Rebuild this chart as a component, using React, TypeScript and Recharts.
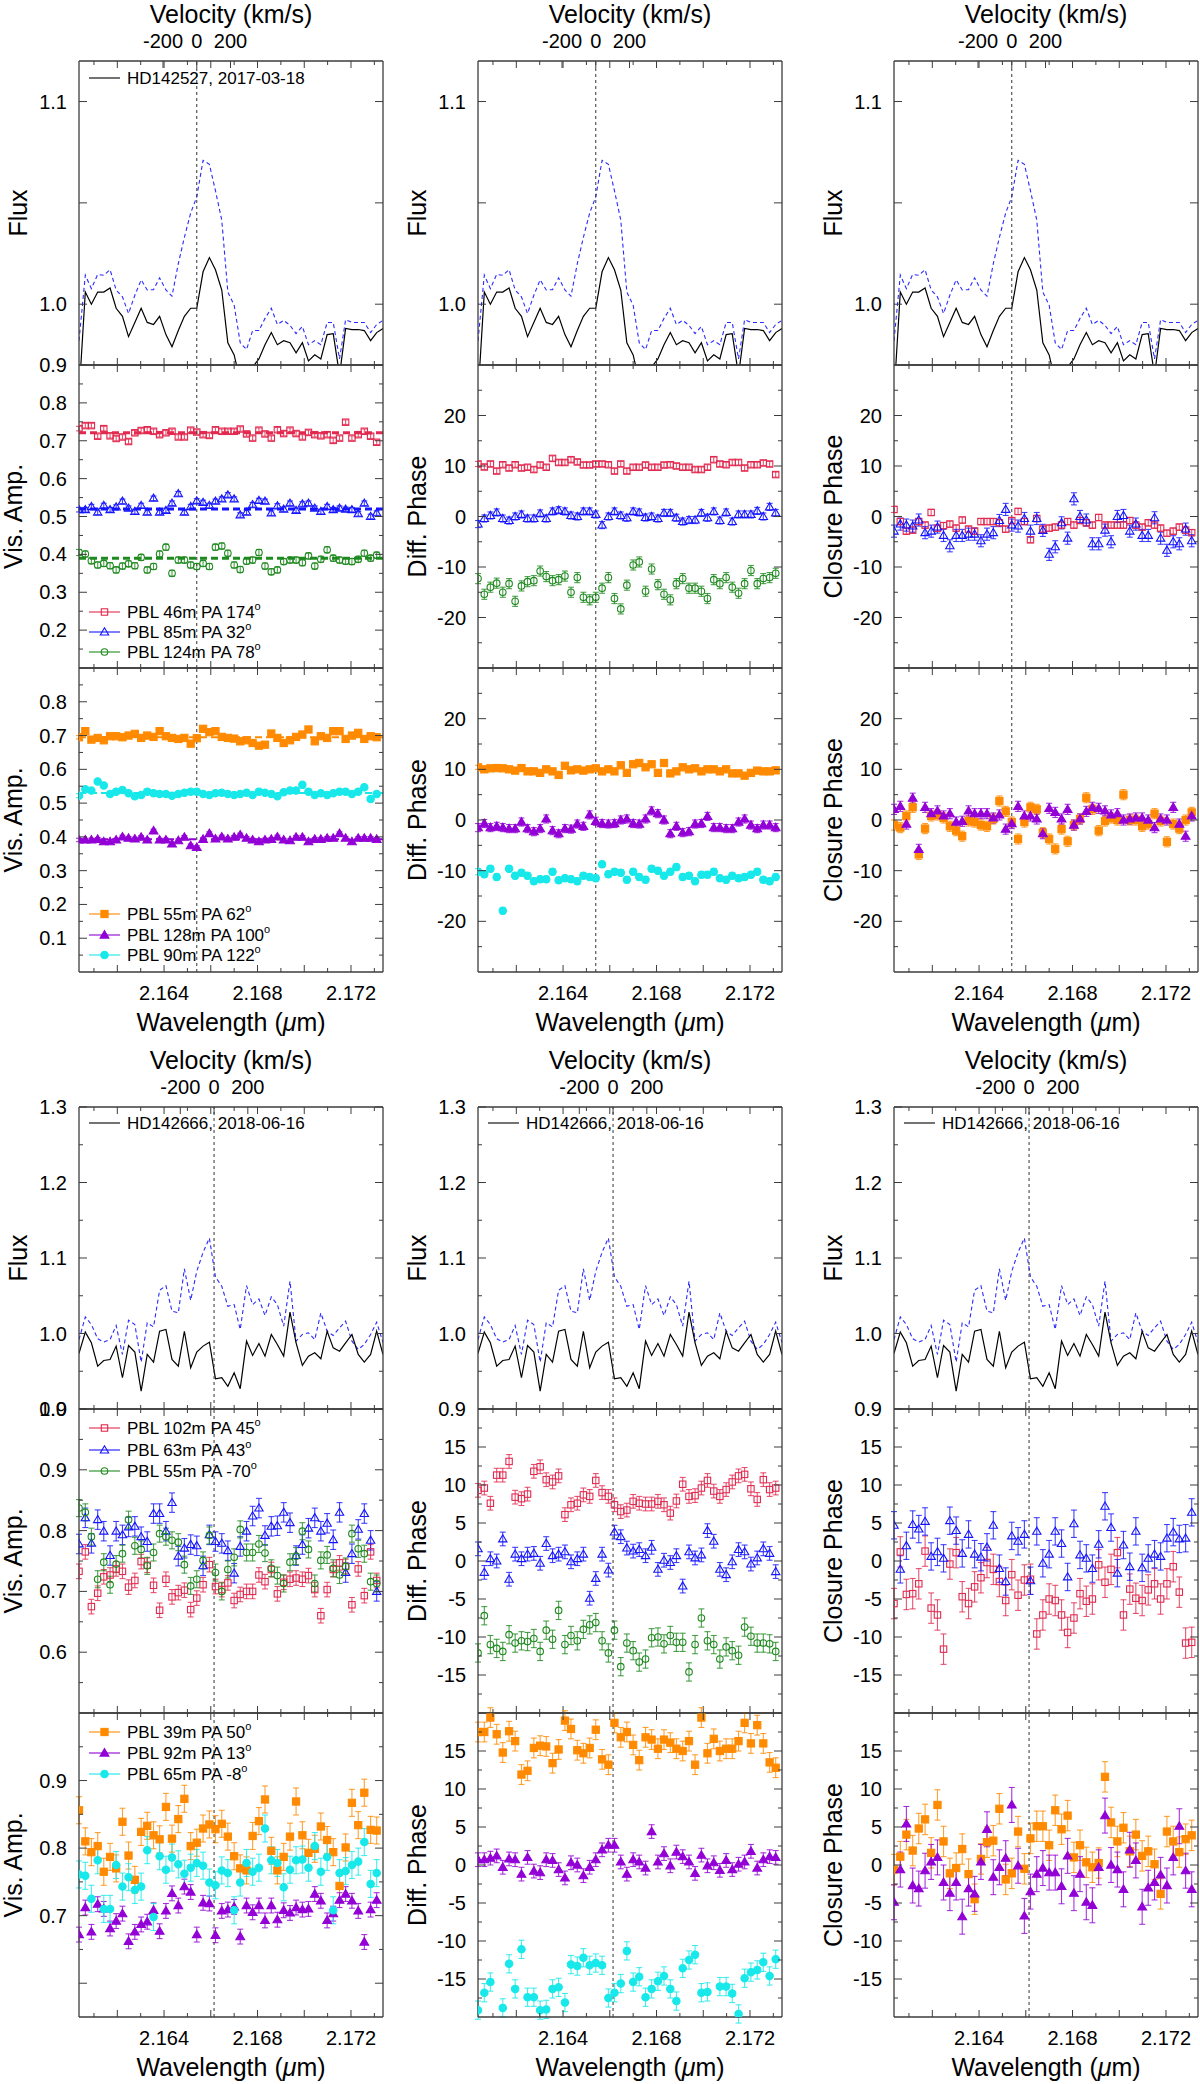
import React from 'react';
import { ComposedChart, Line, Scatter, XAxis, YAxis, ReferenceLine, ErrorBar } from 'recharts';

const FONT = '"Liberation Sans", Arial, Helvetica, sans-serif';
const FRAME = '#3c3c3c';

// ---------- wavelength grid (micron) ----------
const WAVE = [2.16036, 2.16063, 2.16089, 2.16116, 2.16142, 2.16169, 2.16195, 2.16222, 2.16248, 2.16275,
  2.16302, 2.16328, 2.16355, 2.16381, 2.16408, 2.16434, 2.16461, 2.16487, 2.16514, 2.16540,
  2.16567, 2.16594, 2.16620, 2.16647, 2.16673, 2.16700, 2.16726, 2.16753, 2.16779, 2.16806,
  2.16832, 2.16859, 2.16885, 2.16912, 2.16939, 2.16965, 2.16992, 2.17018, 2.17045, 2.17071,
  2.17098, 2.17124, 2.17151, 2.17177, 2.17204, 2.17231, 2.17257, 2.17284, 2.17310, 2.17337];
const X_DOMAIN = [2.16036, 2.17337];
const X_MAJOR = [2.162, 2.164, 2.166, 2.168, 2.170, 2.172];
const X_MINOR = [2.161, 2.163, 2.165, 2.167, 2.169, 2.171, 2.173];
const X_LABELED = [2.164, 2.168, 2.172];
const VEL_TICKS = [-200, 0, 200];
const C_KMS = 299792.458;
const LAM0_TOP = 2.1654;
const LAM0_BOT = 2.16614;

// ---------- HD142527 (top) ----------
const fluxTopBlack = [0.955, 1.006, 1.000, 1.006, 1.006, 1.008, 0.998, 0.994, 0.984, 0.991,
  0.998, 0.991, 0.990, 0.994, 0.985, 0.979, 0.987, 0.994, 0.998, 0.998,
  1.016, 1.023, 1.017, 1.007, 0.981, 0.975, 0.962, 0.960, 0.969, 0.973,
  0.980, 0.986, 0.980, 0.982, 0.981, 0.976, 0.981, 0.972, 0.975, 0.973,
  0.985, 0.9855, 0.965, 0.988, 0.9875, 0.9875, 0.987, 0.982, 0.986, 0.988];
const fluxTopBlue = [0.982, 1.0143, 1.0077, 1.0147, 1.0143, 1.017, 1.007, 1.0036, 0.9954, 1.0044,
  1.012, 1.007, 1.0072, 1.013, 1.007, 1.004, 1.020, 1.033, 1.045, 1.053,
  1.071, 1.069, 1.056, 1.0415, 1.006, 0.9995, 0.981, 0.9776, 0.987, 0.987,
  0.993, 0.998, 0.990, 0.992, 0.9896, 0.9855, 0.989, 0.980, 0.982, 0.980,
  0.991, 0.991, 0.973, 0.9924, 0.991, 0.991, 0.991, 0.986, 0.990, 0.992];

const topVisRed = [0.732, 0.740, 0.740, 0.712, 0.732, 0.713, 0.706, 0.710, 0.698, 0.721,
  0.727, 0.729, 0.725, 0.716, 0.721, 0.725, 0.710, 0.710, 0.728, 0.723,
  0.716, 0.714, 0.729, 0.725, 0.725, 0.725, 0.731, 0.718, 0.707, 0.728,
  0.718, 0.707, 0.729, 0.719, 0.728, 0.719, 0.710, 0.722, 0.716, 0.713,
  0.716, 0.701, 0.707, 0.749, 0.707, 0.716, 0.725, 0.712, 0.696];
const topVisBlue = [0.518, 0.518, 0.526, 0.511, 0.529, 0.518, 0.525, 0.540, 0.522, 0.513,
  0.529, 0.511, 0.548, 0.511, 0.516, 0.535, 0.560, 0.511, 0.526, 0.541,
  0.537, 0.529, 0.540, 0.546, 0.557, 0.546, 0.504, 0.511, 0.531, 0.542,
  0.540, 0.509, 0.528, 0.519, 0.535, 0.516, 0.533, 0.535, 0.522, 0.513,
  0.526, 0.518, 0.522, 0.519, 0.518, 0.507, 0.535, 0.500, 0.509];
const topVisGreen = [0.405, 0.401, 0.383, 0.372, 0.376, 0.370, 0.359, 0.369, 0.375, 0.370,
  0.392, 0.359, 0.368, 0.401, 0.419, 0.350, 0.385, 0.385, 0.372, 0.368,
  0.376, 0.368, 0.419, 0.422, 0.403, 0.372, 0.360, 0.382, 0.385, 0.405,
  0.369, 0.354, 0.359, 0.381, 0.385, 0.385, 0.378, 0.396, 0.369, 0.387,
  0.412, 0.390, 0.385, 0.382, 0.381, 0.387, 0.403, 0.390, 0.398];
const topVisMeans = [0.721, 0.520, 0.390];

const topVis2Orange = [0.695, 0.713, 0.688, 0.693, 0.686, 0.698, 0.698, 0.695, 0.700, 0.705,
  0.693, 0.700, 0.696, 0.713, 0.698, 0.693, 0.690, 0.693, 0.676, 0.692,
  0.720, 0.710, 0.713, 0.696, 0.693, 0.691, 0.683, 0.686, 0.678, 0.670,
  0.673, 0.706, 0.693, 0.678, 0.686, 0.696, 0.703, 0.718, 0.683, 0.698,
  0.693, 0.713, 0.713, 0.690, 0.700, 0.708, 0.690, 0.698, 0.695];
const topVis2Purple = [0.391, 0.391, 0.391, 0.393, 0.386, 0.386, 0.391, 0.400, 0.396, 0.394,
  0.399, 0.391, 0.418, 0.391, 0.391, 0.379, 0.389, 0.399, 0.374, 0.369,
  0.393, 0.410, 0.394, 0.400, 0.394, 0.399, 0.406, 0.396, 0.391, 0.386,
  0.391, 0.393, 0.400, 0.391, 0.389, 0.399, 0.399, 0.386, 0.393, 0.393,
  0.396, 0.396, 0.410, 0.396, 0.386, 0.396, 0.396, 0.396, 0.393];
const topVis2Cyan = [0.522, 0.541, 0.537, 0.564, 0.552, 0.527, 0.534, 0.539, 0.529, 0.520,
  0.524, 0.534, 0.529, 0.527, 0.527, 0.522, 0.527, 0.531, 0.534, 0.534,
  0.527, 0.524, 0.529, 0.531, 0.527, 0.524, 0.527, 0.531, 0.524, 0.534,
  0.531, 0.527, 0.520, 0.532, 0.537, 0.537, 0.554, 0.534, 0.524, 0.529,
  0.524, 0.529, 0.534, 0.534, 0.527, 0.534, 0.547, 0.512, 0.527];
const topVis2Means = [0.695, 0.393, 0.530];

const topDpRed = [10.4, 9.8, 10.4, 9.0, 10.25, 9.6, 10.25, 9.6, 9.75, 9.3,
  10.2, 9.75, 11.5, 10.7, 10.7, 11.25, 10.8, 10.2, 10.2, 10.4,
  10.4, 10.25, 9.0, 10.4, 9.0, 9.75, 9.75, 10.2, 9.75, 9.75,
  10.2, 10.25, 10.0, 9.75, 9.75, 9.3, 9.3, 9.75, 11.25, 10.4,
  10.25, 10.7, 10.7, 9.6, 10.25, 10.25, 10.6, 10.4, 8.3];
const topDpBlue = [-1.5, -0.4, 0.2, 0.8, -0.4, -0.8, 0, 0.4, -0.4, -0.4,
  0.6, -0.4, 1.0, 1.25, 1.0, 0.2, 0, 1.0, 1.0, 0.4,
  -1.7, 0, 1.0, 0.2, -0.25, 1.0, 0.8, -0.2, 0, -0.4,
  0.7, 0.7, -0.25, -1.0, -0.7, -0.7, 0.7, -0.25, 1.0, -0.8,
  0.8, -1.0, 0.4, 0.4, 0.4, 1.1, 0, 1.9, 0.7];
const topDpGreen = [-12.3, -15.4, -14.0, -13.2, -15.0, -13.3, -16.8, -13.75, -12.9, -12.7,
  -10.8, -11.9, -12.7, -12.5, -11.8, -15.0, -12.1, -16.0, -16.5, -16.0,
  -14.2, -12.1, -16.25, -18.3, -13.6, -9.6, -9.0, -14.8, -10.4, -13.5,
  -15.4, -16.5, -13.3, -12.3, -14.2, -14.2, -14.8, -16.25, -12.5, -13.3,
  -12.1, -14.0, -15.2, -13.3, -10.7, -13.3, -12.3, -12.1, -11.25];

const topDp2Orange = [10.4, 10, 10.2, 10.25, 10.2, 10, 9.75, 10.25, 9.6, 9.6,
  9.3, 10, 9.6, 8.9, 10.7, 9.8, 10, 9.75, 10, 10.2,
  9.6, 10, 9.6, 10.8, 9.3, 11.0, 11.25, 10.4, 11, 9.3,
  11.25, 9.2, 9.6, 10.4, 10, 10.2, 9.6, 10, 10, 9.6,
  10, 9.2, 9.2, 8.75, 9.3, 9.75, 9.6, 9.6, 9.8];
const topDp2Purple = [-1.5, -0.7, -1.5, -1.25, -1.5, -1.7, -1.7, -0.4, -1.7, -2.3,
  -1.7, 0.2, -2.1, -2.7, -1.7, -1.8, -0.8, -1.25, 1.0, -0.25,
  -0.7, -0.8, -0.7, 0, 0.2, -0.7, -0.8, 0.2, 1.8, 1.25,
  0, -2.7, -1.25, -2.5, -2.3, -0.8, -0.7, 0.7, -1.5, -1.5,
  -1.7, -1.7, -0.4, 0.2, -1.0, -1.7, -1.0, -1.0, -1.5];
const topDp2Cyan = [-10.2, -10.7, -9.6, -11.25, -17.9, -9.6, -11, -10.4, -11, -12.1,
  -11.7, -11.7, -10.2, -11.9, -11.5, -11.7, -12.1, -11, -11.25, -11.5,
  -8.75, -10.7, -10.2, -10.4, -11.8, -10.2, -11.25, -11.8, -9.6, -10,
  -11, -10.2, -9.3, -11.25, -11, -12.1, -10.8, -10.8, -10.2, -11.5,
  -11.8, -11, -11.5, -11.25, -10.8, -10.2, -11.8, -12.1, -11.25];

const topCpRed = [1.4, -1.0, -2.9, -2.7, -1.0, -1.7, 0.8, -2.3, -1.8, -1.5,
  -2.3, -0.7, -2.5, -2.9, -1.0, -1.0, -1.0, -1.25, -2.5, -0.8,
  1.0, -1.0, -4.6, -0.4, -2.5, -2.3, -2.1, -1.7, -1.0, -1.7,
  -0.8, -1.25, -1.7, -0.2, -1.7, -1.7, -1.7, -1.7, -0.8, -1.7,
  -2.1, -1.25, -1.7, -2.3, -3.3, -2.9, -2.1, -2.7, -3.2];
const topCpBlue = [-2.9, -1.5, -1.7, -1.9, -0.7, -3.2, -2.9, -2.1, -3.75, -5.8,
  -3.75, -3.75, -3.5, -3.5, -4.8, -3.5, -3.2, -0.8, 1.4, -1.7,
  -1.9, -0.4, -2.9, -0.4, -2.75, -7.5, -6.0, -1.25, -4.3, 3.5,
  0, -0.7, -5.4, -5.4, -2.7, -5.0, 0, 0.2, -2.9, -1.5,
  -3.75, -3.75, -0.25, -4.3, -6.7, -5.0, -5.4, -2.5, -4.8];
const topCp2Orange = [-1.0, -1.5, 0.8, 2.5, -6.8, -1.7, 0.8, 1.0, 0.4, -1.25,
  -2.1, -3.2, -0.2, -0.4, -1.0, -1.25, 0.2, 3.75, 1.7, -0.4,
  -3.75, -0.4, 2.5, 2.1, -2.5, -3.75, -5.7, -1.8, -4.2, -1.0,
  0.2, 4.4, 2.1, -2.1, -0.2, 0.4, 0, 5.0, 0, 0,
  -1.25, -0.8, 1.25, -0.2, -4.3, -0.8, -1.7, 0, 1.5];
const topCp2Purple = [2.1, 2.7, -0.8, 4.3, -5.8, 2.5, 1.25, 1.8, 0.8, 1.25,
  -0.4, -0.25, 1.8, 1.25, 1.25, 1.25, 0.4, 1.0, -1.8, -0.7,
  2.7, 0.8, 0.8, 0.2, -2.7, 2.3, 1.5, 0.2, 2.1, -1.0,
  0.2, 1.7, 2.5, 2.3, 1.8, 1.0, 1.25, 0, 0.2, 0.4,
  0.4, 0, -1.5, 0.2, 0, 2.5, -0.8, -3.2, 0.8];

// ---------- HD142666 (bottom) ----------
const fluxBotBlack = [0.9736, 1.0018, 0.9877, 0.9568, 0.9643, 0.9656, 0.9833, 0.9414, 0.9841, 0.9753,
  0.9238, 0.9722, 0.9621, 1.003, 1.0053, 0.9656, 0.9568, 1.003, 0.9546, 0.9753,
  0.9833, 0.9885, 0.940, 0.9414, 0.930, 0.948, 0.9269, 0.9899, 0.9709, 0.9868,
  0.970, 0.9987, 0.9855, 0.970, 1.0282, 0.9877, 0.9577, 0.970, 0.9744, 0.9665,
  1.003, 0.981, 0.9766, 0.9877, 0.9987, 0.9722, 0.9621, 0.9722, 1.0031, 0.9722];
const fluxBotBlue = [0.992, 1.022, 1.0119, 0.993, 0.9885, 0.992, 1.0106, 0.9722, 1.0176, 1.0119,
  0.9621, 1.0141, 1.0088, 1.0573, 1.0634, 1.0295, 1.0273, 1.0855, 1.044, 1.0824,
  1.1075, 1.1264, 1.0749, 1.0626, 1.0361, 1.0383, 1.0053, 1.0634, 1.0383, 1.0458,
  1.0238, 1.0485, 1.0383, 1.0097, 1.0692, 0.9899, 0.9987, 1.0009, 0.992, 1.0273,
  1.003, 0.9974, 1.0075, 1.0163, 0.9899, 0.9789, 0.9855, 0.9987, 1.015, 0.988];

const botVisRed = [0.733, 0.765, 0.675, 0.697, 0.724, 0.727, 0.737, 0.733, 0.707, 0.718,
  0.749, 0.743, 0.710, 0.669, 0.720, 0.691, 0.698, 0.702, 0.670, 0.689,
  0.711, 0.744, 0.708, 0.703, 0.714, 0.685, 0.695, 0.700, 0.700, 0.727,
  0.716, 0.736, 0.696, 0.715, 0.720, 0.722, 0.720, 0.726, 0.703, 0.660,
  0.703, 0.736, 0.747, 0.741, 0.678, 0.737, 0.693, 0.765, 0.718];
const botVisBlue = [0.778, 0.821, 0.779, 0.818, 0.799, 0.759, 0.799, 0.793, 0.806, 0.807,
  0.790, 0.782, 0.828, 0.828, 0.799, 0.846, 0.758, 0.771, 0.777, 0.775,
  0.742, 0.793, 0.782, 0.779, 0.767, 0.730, 0.774, 0.799, 0.824, 0.837,
  0.792, 0.807, 0.808, 0.830, 0.813, 0.759, 0.777, 0.804, 0.821, 0.799,
  0.812, 0.785, 0.830, 0.731, 0.762, 0.802, 0.828, 0.784, 0.700];
const botVisGreen = [0.837, 0.830, 0.790, 0.720, 0.748, 0.711, 0.745, 0.762, 0.818, 0.775,
  0.769, 0.742, 0.764, 0.795, 0.790, 0.784, 0.781, 0.744, 0.709, 0.720,
  0.751, 0.792, 0.731, 0.700, 0.736, 0.756, 0.802, 0.764, 0.764, 0.778,
  0.763, 0.738, 0.726, 0.713, 0.748, 0.758, 0.799, 0.769, 0.713, 0.751,
  0.760, 0.738, 0.727, 0.741, 0.795, 0.770, 0.762, 0.716, 0.713];

const botVis2Orange = [0.856, 0.810, 0.794, 0.803, 0.765, 0.787, 0.770, 0.839, 0.789, 0.753,
  0.824, 0.833, 0.819, 0.813, 0.861, 0.814, 0.843, 0.873, 0.803, 0.808,
  0.829, 0.835, 0.828, 0.836, 0.817, 0.788, 0.770, 0.767, 0.818, 0.840,
  0.872, 0.796, 0.767, 0.787, 0.817, 0.869, 0.819, 0.793, 0.799, 0.832,
  0.812, 0.794, 0.744, 0.801, 0.867, 0.834, 0.882, 0.827, 0.826];
const botVis2Purple = [0.672, 0.712, 0.676, 0.717, 0.710, 0.681, 0.692, 0.703, 0.662, 0.676,
  0.687, 0.691, 0.708, 0.677, 0.707, 0.733, 0.715, 0.743, 0.735, 0.672,
  0.719, 0.718, 0.671, 0.707, 0.709, 0.713, 0.669, 0.715, 0.705, 0.715,
  0.693, 0.715, 0.694, 0.708, 0.704, 0.712, 0.709, 0.710, 0.732, 0.722,
  0.693, 0.703, 0.723, 0.732, 0.722, 0.707, 0.661, 0.709, 0.723];
const botVis2Cyan = [0.761, 0.759, 0.725, 0.782, 0.710, 0.710, 0.775, 0.743, 0.757, 0.738,
  0.743, 0.797, 0.698, 0.788, 0.768, 0.786, 0.776, 0.762, 0.771, 0.778,
  0.774, 0.749, 0.745, 0.767, 0.763, 0.708, 0.749, 0.778, 0.765, 0.771,
  0.829, 0.782, 0.778, 0.742, 0.768, 0.782, 0.783, 0.771, 0.803, 0.765,
  0.787, 0.708, 0.763, 0.766, 0.775, 0.780, 0.809, 0.747, 0.763];

const botDpRed = [9.3, 9.6, 7.6, 11.3, 11.3, 13.1, 8.4, 8.2, 8.8, 11.8,
  12.4, 10.7, 10.4, 11.2, 6.1, 7.4, 7.6, 8.7, 8.5, 10.6,
  9.0, 8.5, 7.4, 6.5, 6.7, 7.85, 7.6, 7.5, 7.5, 7.85,
  7.4, 6.3, 7.9, 10.1, 8.5, 8.6, 9.6, 10.6, 9.2, 8.5,
  9.4, 10.4, 11.2, 11.4, 9.5, 8.1, 10.7, 9.4, 9.6];
const botDpBlue = [1.6, -1.5, 0.3, 0.0, 2.9, -2.4, 0.9, 0.3, 0.9, 1.0,
  -0.3, 2.3, 0.7, 0.9, 1.2, -0.1, 0.3, 0.9, -4.9, -2.3,
  0.9, -1.2, 3.8, 3.2, 1.7, 1.3, 1.5, 0.7, 1.8, -1.1,
  0.1, -0.2, 0.7, -3.3, 1.2, 0.4, 0.8, 4.0, 2.6, -1.1,
  -1.8, -0.1, 1.5, 1.2, -0.4, 0.4, 1.6, 1.0, -1.4];
const botDpGreen = [-12.1, -7.2, -11.0, -11.5, -11.9, -9.7, -10.8, -10.5, -10.6, -10.2,
  -11.9, -9.1, -10.3, -6.5, -11.0, -9.8, -10.5, -9.0, -8.4, -8.1,
  -10.5, -12.1, -9.1, -13.9, -10.8, -11.8, -13.3, -12.9, -10.1, -10.0,
  -10.9, -9.8, -10.7, -10.7, -14.6, -11.0, -7.5, -10.5, -11.0, -12.9,
  -11.3, -11.8, -12.4, -8.7, -9.9, -10.8, -10.8, -10.9, -11.9];

const botDp2Orange = [17.5, 17.5, 19.4, 17.2, 14.8, 17.6, 16.3, 11.9, 12.4, 15.4,
  15.7, 15.6, 13.4, 15.2, 19.0, 17.9, 15.1, 14.7, 15.4, 17.8,
  13.9, 13.2, 18.7, 16.8, 17.5, 15.8, 13.8, 16.8, 16.5, 15.3,
  16.5, 16.1, 15.3, 15.0, 16.3, 13.2, 19.4, 14.7, 16.6, 15.0,
  15.3, 15.3, 16.3, 18.7, 16.0, 18.4, 16.0, 13.5, 12.8];
const botDp2Purple = [0.7, 0.7, 0.9, 1.2, -0.3, 0.8, 0.7, -1.2, 1.0, -0.8,
  -1.0, 0.7, 0.6, -0.6, -1.7, 0.3, 0.0, -1.4, -0.3, 0.7,
  2.0, 2.6, 2.6, 0.4, -1.2, 0.7, 0.4, -0.4, 4.4, 0.4,
  1.5, -0.1, 1.7, 1.1, 0.4, -1.1, 1.3, -0.1, 0.3, -0.7,
  0.6, -0.6, 0.1, 0.4, 1.8, -0.4, 0.7, 1.1, 1.0];
const botDp2Cyan = [-19.1, -16.8, -15.4, null, -18.8, -13.0, -16.3, -11.1, -17.4, -17.4,
  -19.1, -19.0, -16.3, -16.1, -18.1, -13.1, -13.3, -12.2, -13.2, -12.9,
  -13.2, -17.5, -16.8, -15.6, -11.3, -15.4, -14.7, -17.4, -16.3, -15.3,
  -14.6, -16.3, -17.9, -13.6, -12.5, -11.8, -16.8, -16.7, null, -16.0,
  -16.0, -16.9, -19.6, -14.9, -14.1, -13.8, -12.8, -14.6, -12.4];

const botCpRed = [-5.6, 1.2, -4.4, -4.3, -3.0, 1.3, -6.2, -7.1, -11.6, -0.4,
  1.1, -4.7, -5.6, -3.4, -2.2, -0.2, -1.1, -2.7, -5.2, -1.8,
  -4.5, -2.5, -2.4, -9.6, -7.1, -5.0, -5.2, -7.1, -9.4, -7.5,
  -4.3, -5.3, -5.0, -0.5, -2.8, -1.1, 1.1, -7.1, -3.7, -4.9,
  -5.2, -3.8, -3.0, -5.0, -3.0, -0.75, -4.1, -10.8, -10.7];
const botCpBlue = [4.7, -1.1, 2.0, 4.8, 4.2, 5.2, 0.6, 1.2, 0.35, 5.3,
  4.0, 1.0, 3.5, 0.9, 0.5, 1.8, 4.7, -1.0, -2.7, 3.3,
  2.6, 3.5, -2.6, 3.9, -0.3, 0.9, 3.9, 2.3, -2.1, 4.9,
  0.8, 0.35, -1.0, 2.2, 7.2, 4.4, -1.6, 2.1, -0.75, 3.9,
  -0.9, 0.35, 0.9, 0.6, 3.0, 3.8, 2.9, 3.0, 6.4];
const botCp2Orange = [-0.6, 1.1, 4.0, 1.9, 4.8, 6.0, 1.6, 7.9, 3.1, -1.1,
  -0.4, 2.1, -1.2, -4.5, 0.8, 3.0, 3.2, 7.4, -1.9, -1.1,
  4.4, -0.5, 3.5, 5.1, 5.1, 2.6, 7.2, 4.7, 6.5, 1.0,
  2.6, 0.35, -0.3, 0.26, 11.6, 5.6, 3.1, 4.9, 1.8, 4.0,
  1.2, 1.8, 0.1, -3.8, 4.4, 3.1, 1.7, 3.4, 3.9];
const botCp2Purple = [-4.9, -0.6, 5.4, -2.7, -3.1, -0.75, 0.4, 1.0, -2.3, -3.7,
  -2.3, -6.8, -3.1, -3.8, 0.4, 4.7, -1.6, -0.3, 0.9, 7.9,
  -0.1, -6.7, -3.5, -1.2, -0.4, -1.0, -1.0, -2.8, 1.2, -3.7,
  -1.2, -4.9, -5.3, -0.3, 6.5, 0.0, -0.6, -3.2, 2.0, 0.6,
  -5.5, -3.0, -2.3, -1.3, -2.7, 1.0, 5.1, -0.75, -3.2];

// ---------- legend labels ----------
const STAR_TOP = 'HD142527, 2017-03-18';
const STAR_BOT = 'HD142666, 2018-06-16';
const LEG_TOP2 = ['PBL 46m PA 174', 'PBL 85m PA 32', 'PBL 124m PA 78'];
const LEG_TOP3 = ['PBL 55m PA 62', 'PBL 128m PA 100', 'PBL 90m PA 122'];
const LEG_BOT2 = ['PBL 102m PA 45', 'PBL 63m PA 43', 'PBL 55m PA -70'];
const LEG_BOT3 = ['PBL 39m PA 50', 'PBL 92m PA 13', 'PBL 65m PA -8'];

// ---------- axis tick definitions ----------
const AX_FLUX_TOP = { domain: [0.97, 1.12], major: [1.0, 1.05, 1.1], minor: [] as number[], labels: [1.0, 1.1], dec: 1 };
const AX_VIS_TOP2 = { domain: [0.1, 0.9], major: [0.2, 0.3, 0.4, 0.5, 0.6, 0.7, 0.8, 0.9], minor: [0.15, 0.25, 0.35, 0.45, 0.55, 0.65, 0.75, 0.85], labels: [0.2, 0.3, 0.4, 0.5, 0.6, 0.7, 0.8, 0.9], dec: 1 };
const AX_VIS_TOP3 = { domain: [0, 0.9], major: [0.1, 0.2, 0.3, 0.4, 0.5, 0.6, 0.7, 0.8], minor: [0.05, 0.15, 0.25, 0.35, 0.45, 0.55, 0.65, 0.75, 0.85], labels: [0.1, 0.2, 0.3, 0.4, 0.5, 0.6, 0.7, 0.8], dec: 1 };
const AX_PH_TOP = { domain: [-30, 30], major: [-20, -10, 0, 10, 20], minor: [-25, -15, -5, 5, 15, 25], labels: [-20, -10, 0, 10, 20], dec: 0 };
const AX_FLUX_BOT = { domain: [0.9, 1.3], major: [0.9, 1.0, 1.1, 1.2, 1.3], minor: [0.95, 1.05, 1.15, 1.25], labels: [0.9, 1.0, 1.1, 1.2, 1.3], dec: 1 };
const AX_VIS_BOT2 = { domain: [0.5, 1.0], major: [0.6, 0.7, 0.8, 0.9, 1.0], minor: [0.55, 0.65, 0.75, 0.85, 0.95], labels: [0.6, 0.7, 0.8, 0.9, 1.0], dec: 1 };
const AX_VIS_BOT3 = { domain: [0.55, 1.0], major: [0.6, 0.7, 0.8, 0.9], minor: [0.65, 0.75, 0.85, 0.95], labels: [0.7, 0.8, 0.9], dec: 1 };
const AX_PH_BOT = { domain: [-20, 20], major: [-15, -10, -5, 0, 5, 10, 15], minor: [-17.5, -12.5, -7.5, -2.5, 2.5, 7.5, 12.5, 17.5], labels: [-15, -10, -5, 0, 5, 10, 15], dec: 0 };

// ---------- styles ----------
const RED = '#e2294f';
const BLUE = '#1414ff';
const GREEN = '#1f8a1f';
const ORANGE = '#ff8a00';
const PURPLE = '#9200d6';
const CYAN = '#18e8ea';

type Kind = 'square' | 'triangle' | 'circle';
type SDef = { vals: (number | null)[]; err: number; color: string; kind: Kind; filled: boolean };

const TOP_Y = [61, 365, 668, 972];
const BOT_Y = [1107, 1409, 1713, 2017];
const COL_X = [79, 478, 894];
const PW = 304;
const TM = 10;
const ML = 90, MR = 20, MT = 70, MB = 50;

const isIn = (v: number, arr: number[]) => arr.some((a) => Math.abs(a - v) < 1e-7);

function Marker({ kind, filled, color, cx, cy }: { kind: Kind; filled: boolean; color: string; cx: number; cy: number }) {
  const fill = filled ? color : 'none';
  if (kind === 'square') {
    const s = filled ? 3.6 : 3.2;
    return <rect x={cx - s} y={cy - s} width={2 * s} height={2 * s} fill={fill} stroke={color} strokeWidth={1.1} />;
  }
  if (kind === 'triangle') {
    const s = filled ? 4.4 : 4.2;
    return <polygon points={`${cx},${cy - s} ${cx - s},${cy + s * 0.7} ${cx + s},${cy + s * 0.7}`} fill={fill} stroke={color} strokeWidth={1.1} />;
  }
  return <circle cx={cx} cy={cy} r={filled ? 3.7 : 3.3} fill={fill} stroke={color} strokeWidth={1.1} />;
}

function toPoints(vals: (number | null)[], err: number) {
  const out: { x: number; y: number; e: number }[] = [];
  vals.forEach((v, i) => {
    if (v !== null && v !== undefined) out.push({ x: WAVE[i], y: v, e: err });
  });
  return out;
}
function toLine(vals: number[]) {
  return vals.map((v, i) => ({ x: WAVE[i], y: v }));
}

type PanelProps = {
  left: number; top: number; bottom: number;
  ax: { domain: number[]; major: number[]; minor: number[]; labels: number[]; dec: number };
  lam0: number;
  showX?: boolean; showVel?: boolean;
  flux?: { black: number[]; blue: number[] };
  series?: SDef[];
  means?: { y: number; color: string; w: number }[];
};

function Panel(p: PanelProps) {
  const H = p.bottom - p.top;
  const yTicks = [...p.ax.major, ...p.ax.minor].sort((a, b) => a - b);
  const xTicks = [...X_MAJOR, ...X_MINOR].sort((a, b) => a - b);
  const velVals = p.showVel ? VEL_TICKS.map((v) => p.lam0 * (1 + v / C_KMS)) : [];
  const topTicks = [...xTicks, ...velVals].sort((a, b) => a - b);
  const textStyle = { fontSize: 20, fontFamily: FONT, fill: '#000' };

  const leftTick = (props: any) => {
    const v = props.payload.value;
    const ax = props.x + TM;
    const y = props.y;
    const len = isIn(v, p.ax.major) ? 8 : 4;
    return (
      <g>
        <line x1={ax} x2={ax + len} y1={y} y2={y} stroke={FRAME} strokeWidth={1} />
        {isIn(v, p.ax.labels) ? (
          <text x={ax - 12} y={y + 7} textAnchor="end" {...textStyle}>{v.toFixed(p.ax.dec)}</text>
        ) : null}
      </g>
    );
  };
  const rightTick = (props: any) => {
    const v = props.payload.value;
    const ax = props.x - TM;
    const y = props.y;
    const len = isIn(v, p.ax.major) ? 8 : 4;
    return <line x1={ax} x2={ax - len} y1={y} y2={y} stroke={FRAME} strokeWidth={1} />;
  };
  const bottomTick = (props: any) => {
    const v = props.payload.value;
    const ay = props.y - TM;
    const x = props.x;
    const len = isIn(v, X_MAJOR) ? 7 : 4;
    return (
      <g>
        <line x1={x} x2={x} y1={ay} y2={ay - len} stroke={FRAME} strokeWidth={1} />
        {p.showX && isIn(v, X_LABELED) ? (
          <text x={x} y={ay + 28} textAnchor="middle" {...textStyle}>{v.toFixed(3)}</text>
        ) : null}
      </g>
    );
  };
  const topTick = (props: any) => {
    const v = props.payload.value;
    const ay = props.y + TM;
    const x = props.x;
    const vi = velVals.findIndex((w) => Math.abs(w - v) < 1e-7);
    const len = vi >= 0 ? 7 : isIn(v, X_MAJOR) ? 7 : 4;
    return (
      <g>
        <line x1={x} x2={x} y1={ay} y2={ay + len} stroke={FRAME} strokeWidth={1} />
        {vi >= 0 ? (
          <text x={x} y={ay - 13} textAnchor="middle" {...textStyle}>{String(VEL_TICKS[vi])}</text>
        ) : null}
      </g>
    );
  };

  const anchorData = p.flux ? toLine(p.flux.black) : toPoints((p.series || [])[0].vals, 0);

  const axisLine = { stroke: FRAME, strokeWidth: 1.3 };
  const children: any[] = [];
  children.push(
    <XAxis key="xb" xAxisId="b" orientation="bottom" type="number" dataKey="x" height={1} domain={X_DOMAIN}
      allowDataOverflow ticks={xTicks} interval={0} tickSize={0} tickMargin={TM} tickLine={false}
      axisLine={axisLine} tick={bottomTick} />,
    <XAxis key="xt" xAxisId="t" orientation="top" type="number" dataKey="x" height={1} domain={X_DOMAIN}
      allowDataOverflow ticks={topTicks} interval={0} tickSize={0} tickMargin={TM} tickLine={false}
      axisLine={axisLine} tick={topTick} />,
    <YAxis key="yl" yAxisId="l" orientation="left" type="number" dataKey="y" width={1} domain={p.ax.domain}
      allowDataOverflow ticks={yTicks} interval={0} tickSize={0} tickMargin={TM} tickLine={false}
      axisLine={axisLine} tick={leftTick} />,
    <YAxis key="yr" yAxisId="r" orientation="right" type="number" dataKey="y" width={1} domain={p.ax.domain}
      allowDataOverflow ticks={yTicks} interval={0} tickSize={0} tickMargin={TM} tickLine={false}
      axisLine={axisLine} tick={rightTick} />,
    <Line key="anchor" data={anchorData} dataKey="y" xAxisId="t" yAxisId="r" stroke="none" strokeWidth={0}
      dot={false} activeDot={false} isAnimationActive={false} legendType="none" />
  );
  (p.means || []).forEach((m, i) => {
    children.push(
      <ReferenceLine key={'m' + i} y={m.y} xAxisId="b" yAxisId="l" stroke={m.color} strokeWidth={m.w} strokeDasharray="7 4" />
    );
  });
  if (p.flux) {
    children.push(
      <Line key="fb" data={toLine(p.flux.blue)} dataKey="y" xAxisId="b" yAxisId="l" type="linear" stroke="#2a2aff"
        strokeWidth={1.1} strokeDasharray="4 3" dot={false} isAnimationActive={false} />,
      <Line key="fk" data={toLine(p.flux.black)} dataKey="y" xAxisId="b" yAxisId="l" type="linear" stroke="#000"
        strokeWidth={1.2} dot={false} isAnimationActive={false} />
    );
  }
  (p.series || []).forEach((s, i) => {
    children.push(
      <Scatter key={'s' + i} data={toPoints(s.vals, s.err)} dataKey="y" xAxisId="b" yAxisId="l" isAnimationActive={false}
        shape={(sp: any) => <Marker kind={s.kind} filled={s.filled} color={s.color} cx={sp.cx} cy={sp.cy} />}>
        <ErrorBar dataKey="e" direction="y" width={3} stroke={s.color} strokeWidth={1.1} strokeOpacity={0.8} />
      </Scatter>
    );
  });
  children.push(
    <ReferenceLine key="lam0" x={p.lam0} xAxisId="b" yAxisId="l" stroke="#333" strokeWidth={1} strokeDasharray="3 3" />
  );

  return (
    <div style={{ position: 'absolute', left: p.left - ML - 1, top: p.top - MT - 1 }}>
      <ComposedChart width={PW + ML + MR + 2} height={H + MT + MB + 2}
        margin={{ top: MT, right: MR, bottom: MB, left: ML }}>
        {children}
      </ComposedChart>
    </div>
  );
}

function LegendRow({ x, y, color, kind, filled, text, sup }: any) {
  return (
    <g>
      <line x1={x + 10} x2={x + 41} y1={y} y2={y} stroke={color} strokeWidth={1.1} />
      {kind ? <Marker kind={kind} filled={filled} color={color} cx={x + 25.5} cy={y} /> : null}
      <text x={x + 48} y={y + 6} fontSize={17} fontFamily={FONT} fill="#000">
        {text}
        {sup ? <tspan dy={-8} fontSize={11}>o</tspan> : null}
      </text>
    </g>
  );
}

export default function App() {
  const S = (vals: (number | null)[], err: number, color: string, kind: Kind, filled: boolean): SDef => ({ vals, err, color, kind, filled });

  const topCols = [
    {
      ax: [AX_FLUX_TOP, AX_VIS_TOP2, AX_VIS_TOP3],
      s2: [S(topVisRed, 0.006, RED, 'square', false), S(topVisBlue, 0.006, BLUE, 'triangle', false), S(topVisGreen, 0.008, GREEN, 'circle', false)],
      s3: [S(topVis2Orange, 0.005, ORANGE, 'square', true), S(topVis2Purple, 0.005, PURPLE, 'triangle', true), S(topVis2Cyan, 0.006, CYAN, 'circle', true)],
      m2: [{ y: topVisMeans[0], color: RED, w: 3 }, { y: topVisMeans[1], color: BLUE, w: 3 }, { y: topVisMeans[2], color: GREEN, w: 3 }],
      m3: [{ y: topVis2Means[0], color: ORANGE, w: 2 }, { y: topVis2Means[1], color: PURPLE, w: 2 }, { y: topVis2Means[2], color: CYAN, w: 2 }],
      titles: ['Flux', 'Vis. Amp.', 'Vis. Amp.'],
    },
    {
      ax: [AX_FLUX_TOP, AX_PH_TOP, AX_PH_TOP],
      s2: [S(topDpRed, 0.5, RED, 'square', false), S(topDpBlue, 0.7, BLUE, 'triangle', false), S(topDpGreen, 1.0, GREEN, 'circle', false)],
      s3: [S(topDp2Orange, 0.4, ORANGE, 'square', true), S(topDp2Purple, 0.8, PURPLE, 'triangle', true), S(topDp2Cyan, 0.6, CYAN, 'circle', true)],
      m2: [], m3: [],
      titles: ['Flux', 'Diff. Phase', 'Diff. Phase'],
    },
    {
      ax: [AX_FLUX_TOP, AX_PH_TOP, AX_PH_TOP],
      s2: [S(topCpRed, 0.6, RED, 'square', false), S(topCpBlue, 1.2, BLUE, 'triangle', false)],
      s3: [S(topCp2Orange, 1.0, ORANGE, 'square', true), S(topCp2Purple, 1.0, PURPLE, 'triangle', true)],
      m2: [], m3: [],
      titles: ['Flux', 'Closure Phase', 'Closure Phase'],
    },
  ];
  const botCols = [
    {
      ax: [AX_FLUX_BOT, AX_VIS_BOT2, AX_VIS_BOT3],
      s2: [S(botVisRed, 0.012, RED, 'square', false), S(botVisBlue, 0.016, BLUE, 'triangle', false), S(botVisGreen, 0.014, GREEN, 'circle', false)],
      s3: [S(botVis2Orange, 0.02, ORANGE, 'square', true), S(botVis2Purple, 0.011, PURPLE, 'triangle', true), S(botVis2Cyan, 0.02, CYAN, 'circle', true)],
      titles: ['Flux', 'Vis. Amp.', 'Vis. Amp.'],
    },
    {
      ax: [AX_FLUX_BOT, AX_PH_BOT, AX_PH_BOT],
      s2: [S(botDpRed, 0.9, RED, 'square', false), S(botDpBlue, 0.9, BLUE, 'triangle', false), S(botDpGreen, 1.2, GREEN, 'circle', false)],
      s3: [S(botDp2Orange, 1.3, ORANGE, 'square', true), S(botDp2Purple, 0.9, PURPLE, 'triangle', true), S(botDp2Cyan, 1.2, CYAN, 'circle', true)],
      titles: ['Flux', 'Diff. Phase', 'Diff. Phase'],
    },
    {
      ax: [AX_FLUX_BOT, AX_PH_BOT, AX_PH_BOT],
      s2: [S(botCpRed, 2.0, RED, 'square', false), S(botCpBlue, 1.8, BLUE, 'triangle', false)],
      s3: [S(botCp2Orange, 2.0, ORANGE, 'square', true), S(botCp2Purple, 2.3, PURPLE, 'triangle', true)],
      titles: ['Flux', 'Closure Phase', 'Closure Phase'],
    },
  ];

  const panels: any[] = [];
  const texts: any[] = [];

  const addHalf = (rows: number[], cols: any[], lam0: number, fluxB: number[], fluxL: number[], half: string) => {
    cols.forEach((c: any, ci: number) => {
      const left = COL_X[ci];
      const cx = left + PW / 2;
      panels.push(<Panel key={half + ci + 'p1'} left={left} top={rows[0]} bottom={rows[1]} ax={c.ax[0]} lam0={lam0} showVel flux={{ black: fluxB, blue: fluxL }} />);
      panels.push(<Panel key={half + ci + 'p2'} left={left} top={rows[1]} bottom={rows[2]} ax={c.ax[1]} lam0={lam0} series={c.s2} means={c.m2} />);
      panels.push(<Panel key={half + ci + 'p3'} left={left} top={rows[2]} bottom={rows[3]} ax={c.ax[2]} lam0={lam0} showX series={c.s3} means={c.m3} />);
      texts.push(
        <text key={half + ci + 'vt'} x={cx} y={rows[0] - 38} textAnchor="middle" fontSize={25} fontFamily={FONT} fill="#000">Velocity (km/s)</text>,
        <text key={half + ci + 'wt'} x={cx} y={rows[3] + 59} textAnchor="middle" fontSize={25} fontFamily={FONT} fill="#000">
          Wavelength (<tspan fontStyle="italic">μ</tspan>m)
        </text>
      );
      c.titles.forEach((t: string, ri: number) => {
        const cy = (rows[ri] + rows[ri + 1]) / 2;
        const bx = left - (t === 'Vis. Amp.' ? 57 : 52);
        texts.push(
          <text key={half + ci + 'yt' + ri} transform={`translate(${bx},${cy}) rotate(-90)`} textAnchor="middle"
            fontSize={25} fontFamily={FONT} fill="#000">{t}</text>
        );
      });
    });
  };
  addHalf(TOP_Y, topCols, LAM0_TOP, fluxTopBlack, fluxTopBlue, 'T');
  addHalf(BOT_Y, botCols, LAM0_BOT, fluxBotBlack, fluxBotBlue, 'B');

  // legends
  const L = COL_X[0];
  texts.push(<LegendRow key="lg-st" x={L} y={TOP_Y[0] + 17} color="#000" text={STAR_TOP} />);
  [0, 1, 2].forEach((ci) => {
    texts.push(<LegendRow key={'lg-sb' + ci} x={COL_X[ci]} y={BOT_Y[0] + 16} color="#000" text={STAR_BOT} />);
  });
  const c2 = [[RED, 'square', false], [BLUE, 'triangle', false], [GREEN, 'circle', false]];
  const c3 = [[ORANGE, 'square', true], [PURPLE, 'triangle', true], [CYAN, 'circle', true]];
  const rowsT2 = [TOP_Y[2] - 56, TOP_Y[2] - 36, TOP_Y[2] - 16];
  const rowsT3 = [TOP_Y[3] - 58, TOP_Y[3] - 37, TOP_Y[3] - 17];
  const rowsB2 = [BOT_Y[1] + 19, BOT_Y[1] + 41, BOT_Y[1] + 62];
  const rowsB3 = [BOT_Y[2] + 19, BOT_Y[2] + 40, BOT_Y[2] + 61];
  [0, 1, 2].forEach((i) => {
    texts.push(<LegendRow key={'lt2' + i} x={L} y={rowsT2[i]} color={c2[i][0]} kind={c2[i][1]} filled={c2[i][2]} text={LEG_TOP2[i]} sup />);
    texts.push(<LegendRow key={'lt3' + i} x={L} y={rowsT3[i]} color={c3[i][0]} kind={c3[i][1]} filled={c3[i][2]} text={LEG_TOP3[i]} sup />);
    texts.push(<LegendRow key={'lb2' + i} x={L} y={rowsB2[i]} color={c2[i][0]} kind={c2[i][1]} filled={c2[i][2]} text={LEG_BOT2[i]} sup />);
    texts.push(<LegendRow key={'lb3' + i} x={L} y={rowsB3[i]} color={c3[i][0]} kind={c3[i][1]} filled={c3[i][2]} text={LEG_BOT3[i]} sup />);
  });

  return (
    <div style={{ position: 'absolute', left: 0, top: 0, width: 1200, height: 2084, background: '#fff', overflow: 'hidden' }}>
      {panels}
      <svg width={1200} height={2084} style={{ position: 'absolute', left: 0, top: 0, pointerEvents: 'none' }}>
        {texts}
      </svg>
    </div>
  );
}
